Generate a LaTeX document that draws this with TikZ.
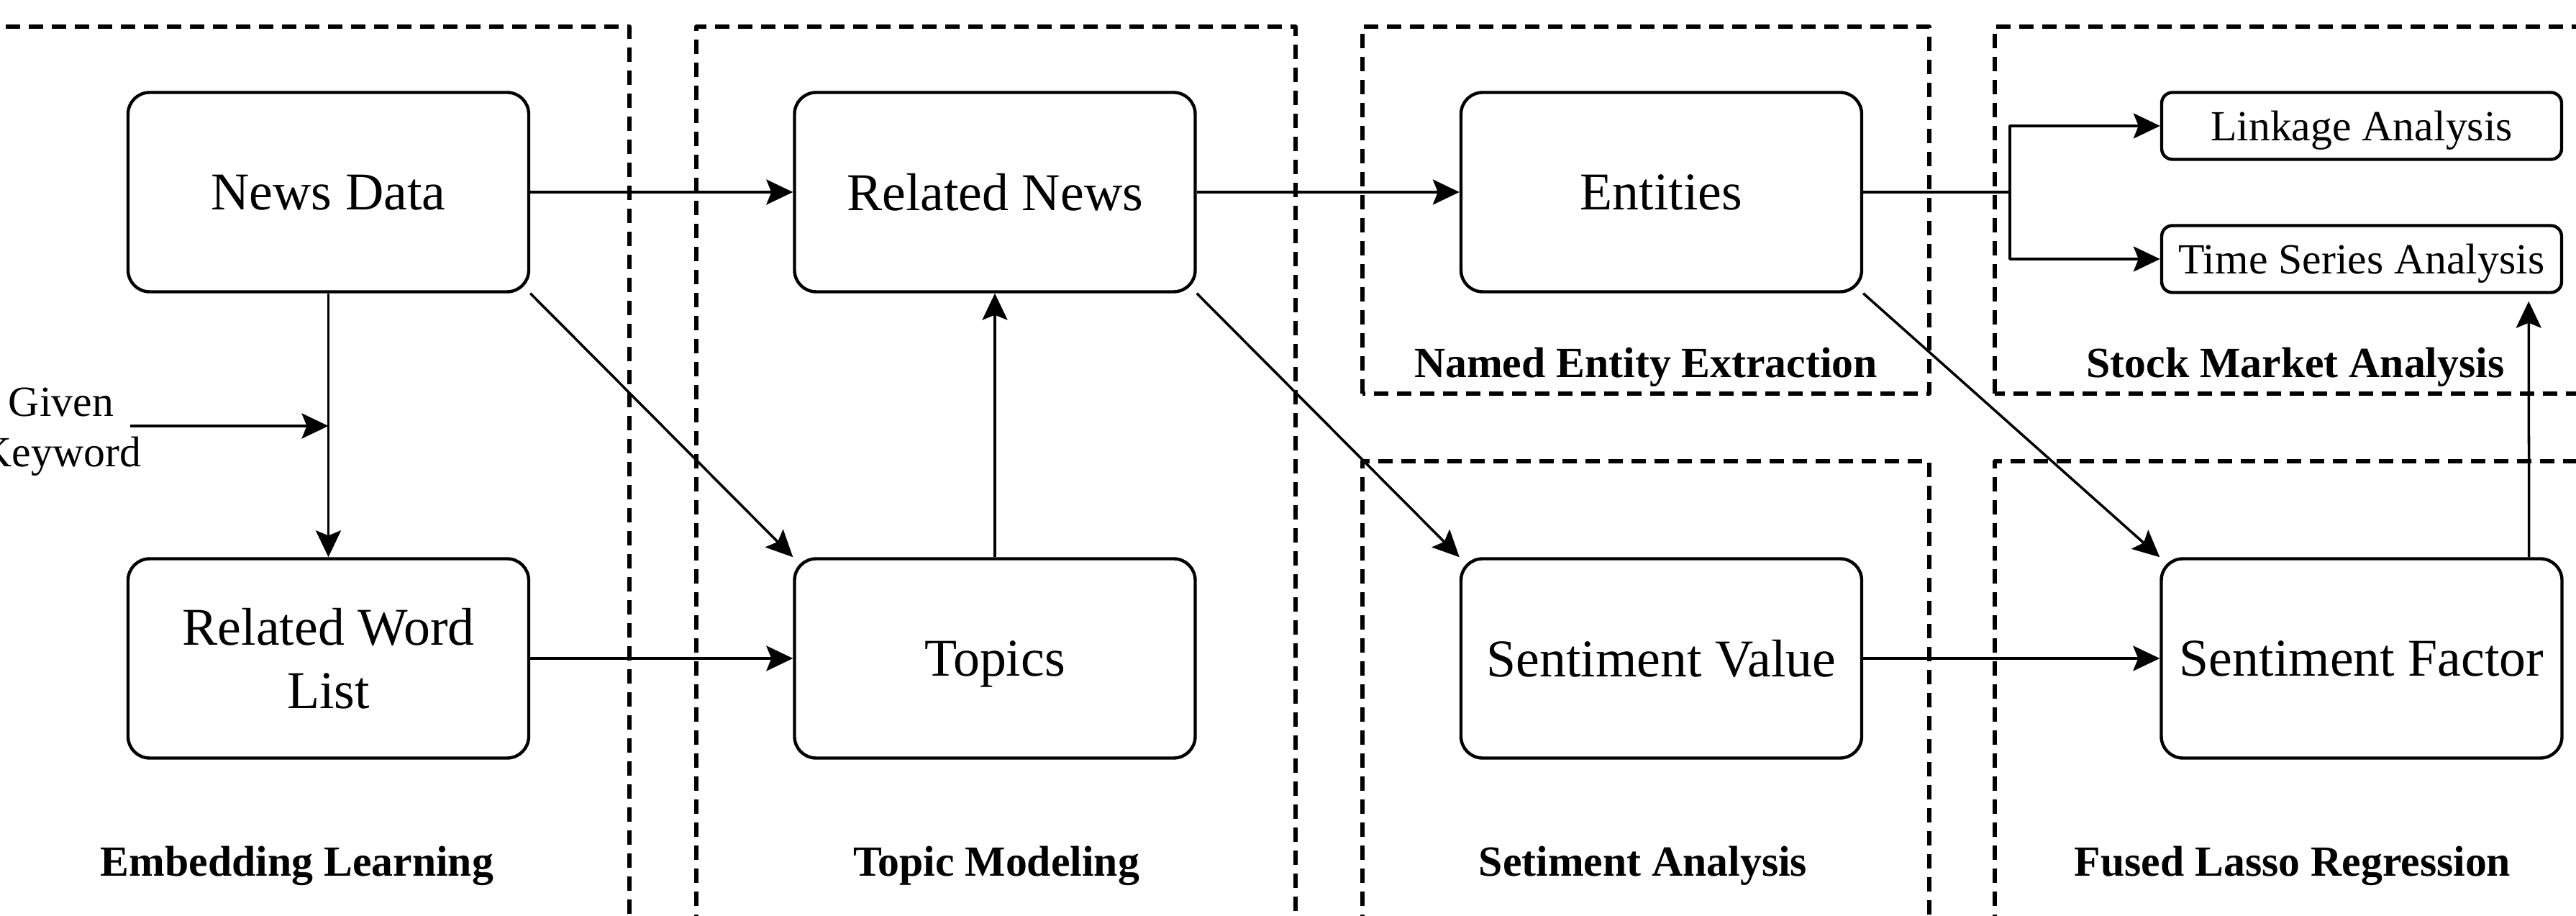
\documentclass[tikz,border=0pt]{standalone}
\usepackage{fontspec}
\setmainfont{Liberation Serif}
\usetikzlibrary{arrows.meta}

\begin{document}
\begin{tikzpicture}[line cap=butt,line join=round,
  box/.style={draw,line width=1.25pt,rounded corners=3mm,minimum width=5.57cm,minimum height=2.77cm,inner sep=2pt,text depth=0pt,align=center,font=\fontsize{21}{25}\selectfont},
  smallbox/.style={draw,line width=1.25pt,rounded corners=1.5mm,minimum width=5.56cm,minimum height=0.93cm,inner sep=2pt,text depth=0pt,font=\fontsize{17}{20}\selectfont},
  region/.style={line width=1.5pt,dash pattern=on 2mm off 1.2mm},
  title/.style={anchor=base,font=\bfseries\fontsize{17}{20}\selectfont},
  arr/.style={line width=1pt,-{Stealth[length=3.7mm,width=3.5mm,inset=0.7mm]}}]
  \useasboundingbox (0,0) rectangle (35.81,12.73); \clip (0,0) rectangle (35.81,12.73);
  % stage regions
  \draw[region] (-0.5,-0.5) rectangle (8.75,12.36); \draw[region] (9.68,-0.5) rectangle (18.01,12.36);
  \draw[region] (18.94,7.26) rectangle (26.82,12.36); \draw[region] (18.94,-0.5) rectangle (26.82,6.32);
  \draw[region] (27.73,7.26) rectangle (36.3,12.36); \draw[region] (27.73,-0.5) rectangle (36.3,6.32);
  \node[title] at (4.13,0.55) {Embedding Learning}; \node[title] at (13.85,0.55) {Topic Modeling};
  \node[title] at (22.84,0.55) {Setiment Analysis}; \node[title] at (31.87,0.55) {Fused Lasso Regression};
  \node[title] at (22.88,7.48) {Named Entity Extraction}; \node[title] at (31.91,7.48) {Stock Market Analysis};
  % boxes
  \node[box] (nd) at (4.565,10.06) {News Data}; \node[box] (rwl) at (4.565,3.58) {Related Word\\List};
  \node[box] (rn) at (13.83,10.06) {Related News}; \node[box] (tp) at (13.83,3.58) {Topics};
  \node[box] (ent) at (23.095,10.06) {Entities}; \node[box] (sv) at (23.095,3.58) {Sentiment Value};
  \node[box] (sf) at (32.83,3.58) {Sentiment Factor};
  \node[smallbox] (la) at (32.83,10.98) {Linkage Analysis}; \node[smallbox] (ts) at (32.83,9.13) {Time Series Analysis};
  \node[align=center,inner sep=2pt,font=\fontsize{17}{20}\selectfont] (kw) at (0.85,6.73) {Given\\Keyword};
  % connectors
  \coordinate (kwout) at ([shift={(-2.3mm,0.8mm)}]kw.east); \coordinate (jn) at (27.94,10.06);
  \draw[arr] (kwout) -- (kwout -| nd.south);
  \draw[arr] (nd.south) -- (rwl.north); \draw[arr] (nd.east) -- (rn.west);
  \draw[arr] (nd.south east) -- (tp.north west); \draw[arr] (rwl.east) -- (tp.west);
  \draw[arr] (tp.north) -- (rn.south); \draw[arr] (rn.east) -- (ent.west);
  \draw[arr] (rn.south east) -- (sv.north west); \draw[arr] (sv.east) -- (sf.west);
  \draw[arr] (ent.south east) -- (sf.north west);
  \draw[line width=1pt] (ent.east) -- (jn); \draw[arr] (jn) |- (la.west); \draw[arr] (jn) |- (ts.west);
  \draw[arr] ([xshift=-4.8mm]sf.north east) -- ([xshift=-4.8mm,yshift=-1mm]ts.south east);
\end{tikzpicture}
\end{document}
